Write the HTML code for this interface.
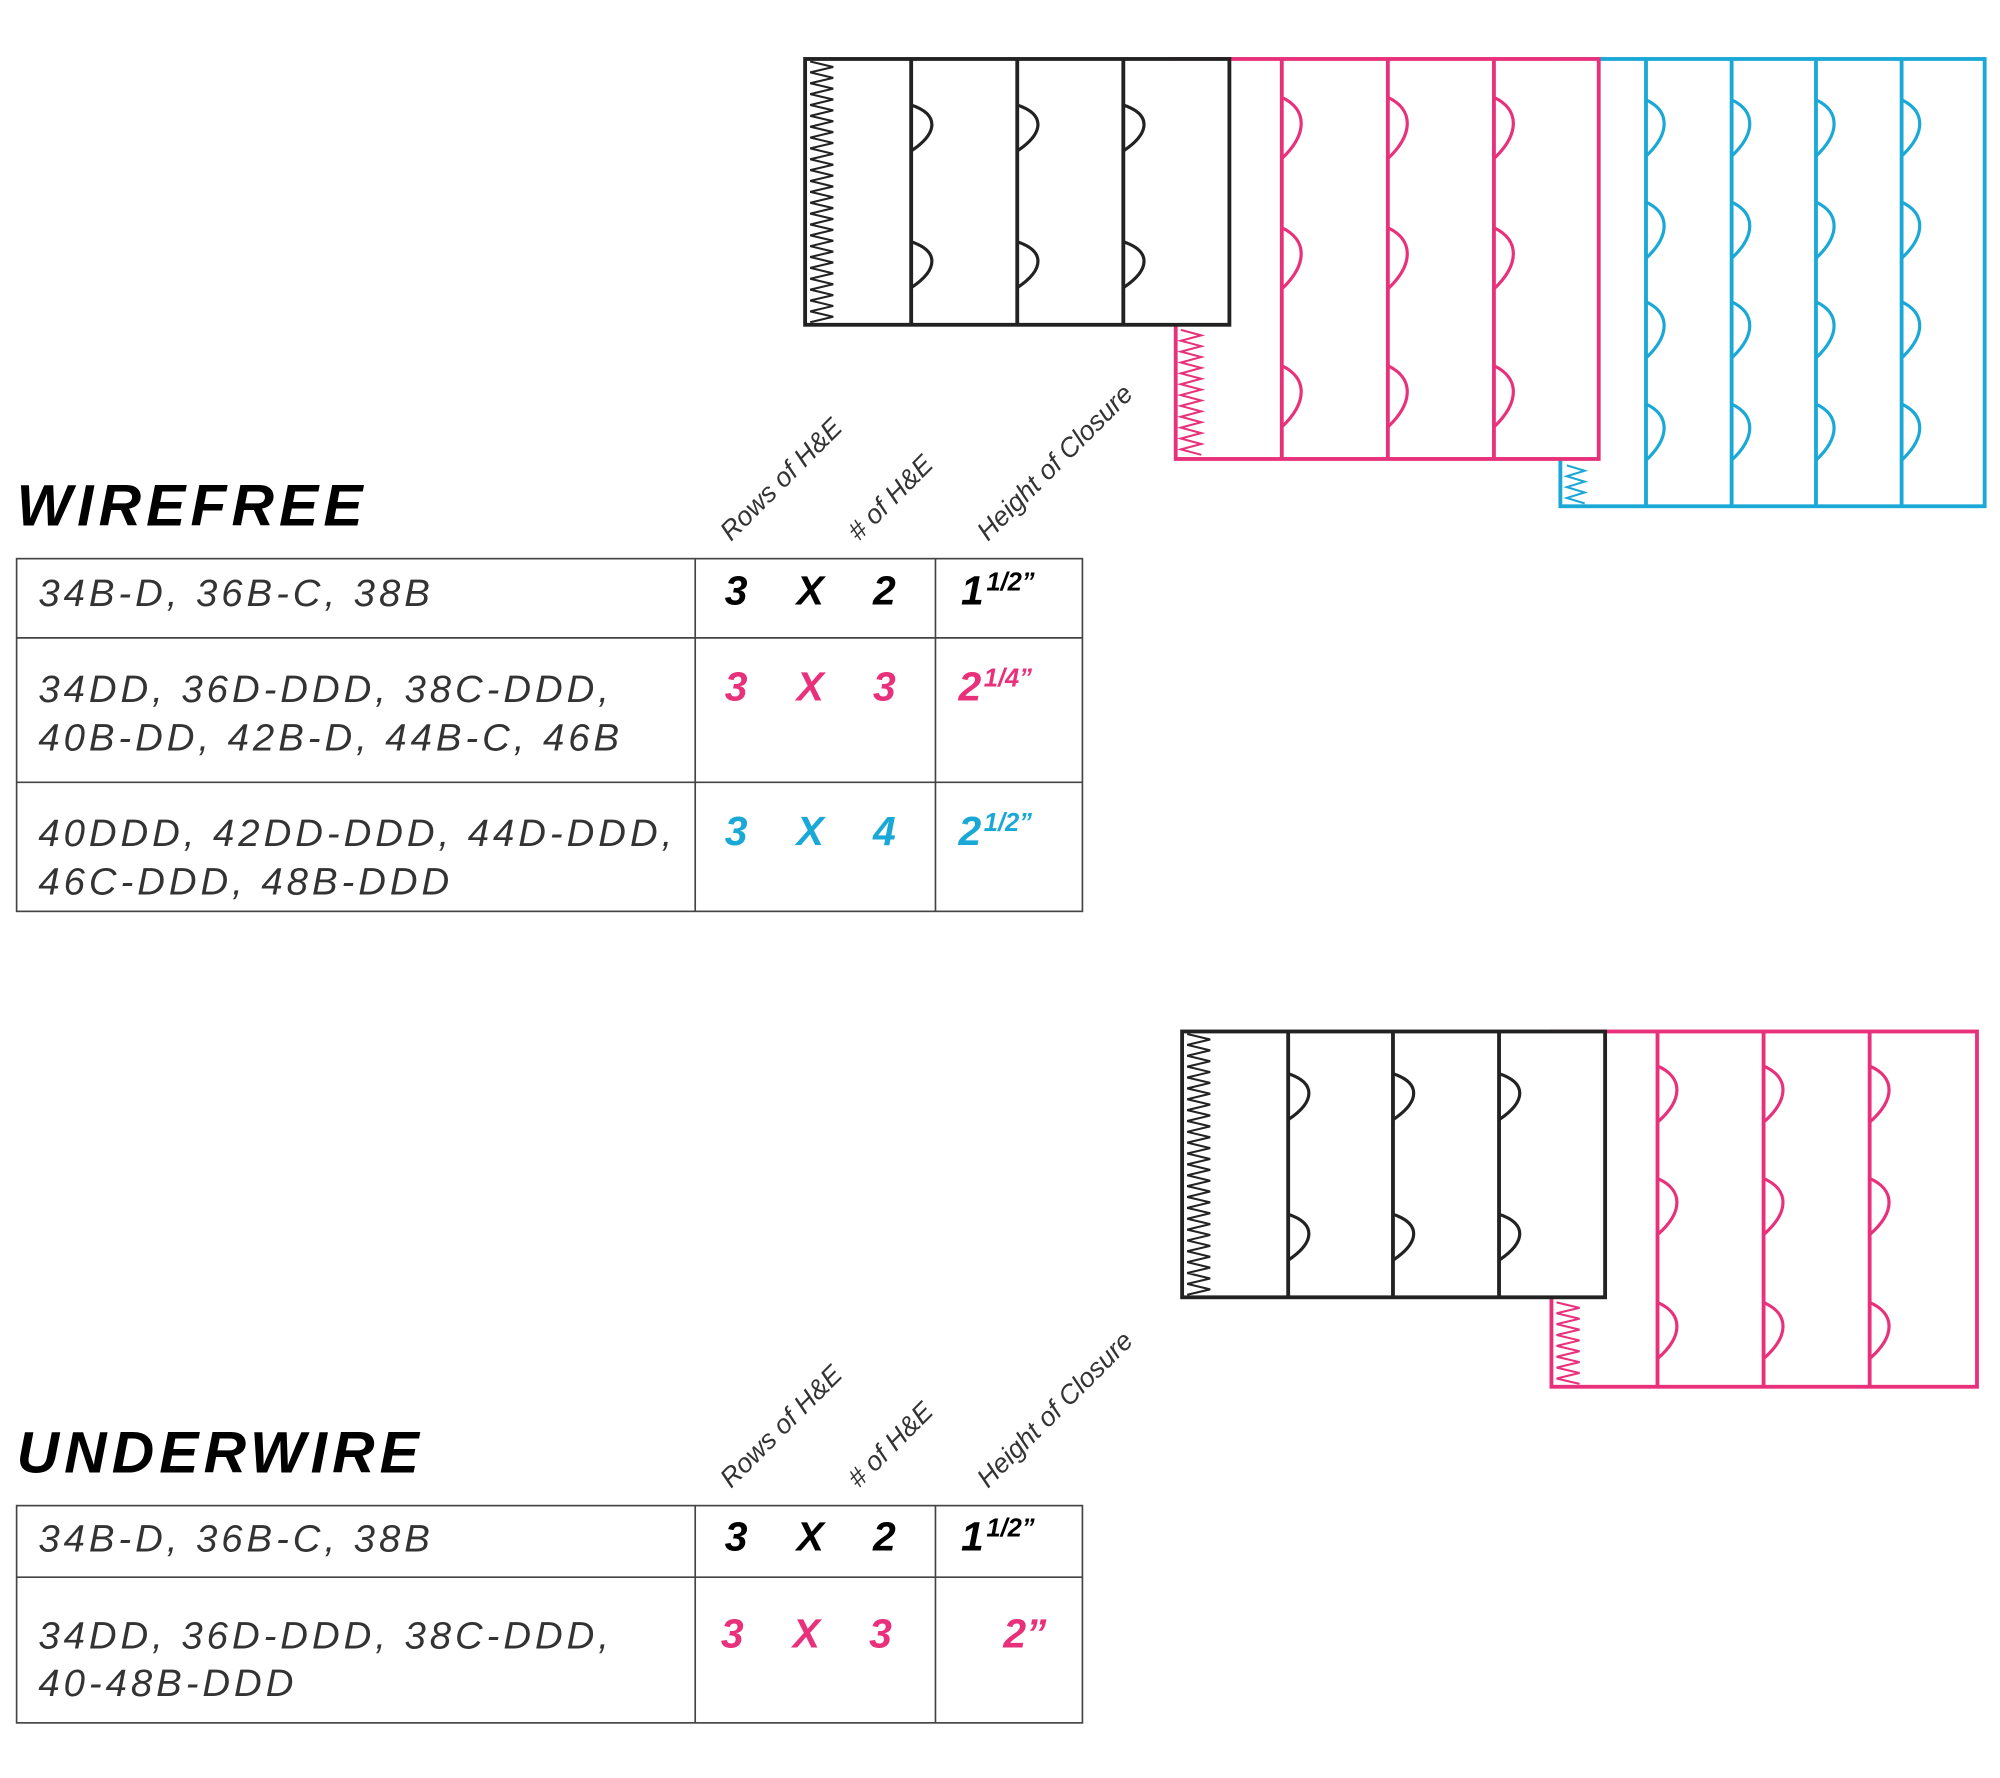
<!DOCTYPE html>
<html><head><meta charset="utf-8">
<style>
html,body{margin:0;padding:0;background:#fff;}
svg{display:block;}
.lbl{font-family:"Liberation Sans",sans-serif;font-style:italic;font-size:30px;letter-spacing:3.1px;fill:#333;}
.num{font-family:"Liberation Sans",sans-serif;font-style:italic;font-weight:bold;font-size:32px;text-anchor:middle;}
.hdr{font-family:"Liberation Sans",sans-serif;font-style:italic;font-size:21px;fill:#333;}
.ttl{font-family:"Liberation Sans",sans-serif;font-style:italic;font-weight:bold;font-size:46px;letter-spacing:4px;fill:#000;}
.sup{font-size:20px;}
</style></head><body>
<svg id="s" width="2000" height="1778" viewBox="0 0 1565 1391" xmlns="http://www.w3.org/2000/svg">
<g id="draw" fill="none" stroke-width="3"></g>

<text class="ttl" x="13" y="411">WIREFREE</text>
<text class="hdr" transform="translate(572,424) rotate(-45)">Rows of H&amp;E</text>
<text class="hdr" transform="translate(672,424) rotate(-45)"># of H&amp;E</text>
<text class="hdr" transform="translate(773,424) rotate(-45)">Height of Closure</text>
<g stroke="#444" stroke-width="1.3" fill="none">
<rect x="13" y="437" width="834" height="276"/>
<line x1="13" y1="499" x2="847" y2="499"/><line x1="13" y1="612" x2="847" y2="612"/>
<line x1="544" y1="437" x2="544" y2="713"/><line x1="732" y1="437" x2="732" y2="713"/>
</g>
<text class="lbl" x="30" y="474">34B-D, 36B-C, 38B</text>
<text class="lbl" x="30" y="549">34DD, 36D-DDD, 38C-DDD,</text>
<text class="lbl" x="30" y="587">40B-DD, 42B-D, 44B-C, 46B</text>
<text class="lbl" x="30" y="662">40DDD, 42DD-DDD, 44D-DDD,</text>
<text class="lbl" x="30" y="700">46C-DDD, 48B-DDD</text>
<g class="num" fill="#000"><text x="576" y="473">3</text><text x="634" y="473">X</text><text x="692" y="473">2</text><text x="752" y="473" text-anchor="start">1<tspan class="sup" dy="-11" dx="2">1/2”</tspan></text></g>
<g class="num" fill="#e8317a"><text x="576" y="548">3</text><text x="634" y="548">X</text><text x="692" y="548">3</text><text x="750" y="548" text-anchor="start">2<tspan class="sup" dy="-11" dx="2">1/4”</tspan></text></g>
<g class="num" fill="#1aa9d6"><text x="576" y="661">3</text><text x="634" y="661">X</text><text x="692" y="661">4</text><text x="750" y="661" text-anchor="start">2<tspan class="sup" dy="-11" dx="2">1/2”</tspan></text></g>

<text class="ttl" x="13" y="1152">UNDERWIRE</text>
<text class="hdr" transform="translate(572,1165) rotate(-45)">Rows of H&amp;E</text>
<text class="hdr" transform="translate(672,1165) rotate(-45)"># of H&amp;E</text>
<text class="hdr" transform="translate(773,1165) rotate(-45)">Height of Closure</text>
<g stroke="#444" stroke-width="1.3" fill="none">
<rect x="13" y="1178" width="834" height="170"/>
<line x1="13" y1="1234" x2="847" y2="1234"/>
<line x1="544" y1="1178" x2="544" y2="1348"/><line x1="732" y1="1178" x2="732" y2="1348"/>
</g>
<text class="lbl" x="30" y="1214">34B-D, 36B-C, 38B</text>
<text class="lbl" x="30" y="1290">34DD, 36D-DDD, 38C-DDD,</text>
<text class="lbl" x="30" y="1327">40-48B-DDD</text>
<g class="num" fill="#000"><text x="576" y="1213">3</text><text x="634" y="1213">X</text><text x="692" y="1213">2</text><text x="752" y="1213" text-anchor="start">1<tspan class="sup" dy="-11" dx="2">1/2”</tspan></text></g>
<g class="num" fill="#e8317a"><text x="573" y="1289">3</text><text x="631" y="1289">X</text><text x="689" y="1289">3</text><text x="802" y="1289">2”</text></g>
</svg>
<script>
var g=document.getElementById('draw'),NS='http://www.w3.org/2000/svg';
function el(t,a){var e=document.createElementNS(NS,t);for(var k in a)e.setAttribute(k,a[k]);g.appendChild(e);return e;}
function zig(x,y1,y2,amp,per,c){var p=[],y=y1,i=0;while(y<=y2){p.push((x+(i%2?amp:0))+','+y);y+=per/2;i++;}el('polyline',{points:p.join(' '),stroke:c,'stroke-width':1.6});}
function hook(x,y,h,w,c,sw){var t=y-h/2,b=y+h/2;el('path',{d:'M'+x+','+t+' C'+(x+w*1.35)+','+(t+h*0.2)+' '+(x+w*1.35)+','+(t+h*0.6)+' '+x+','+b,stroke:c,'stroke-width':sw});}
function block(x1,x2,y1,y2,divs,hooks,c,zx,zy1,zy2,zamp,zper,h,w){
  el('rect',{x:x1,y:y1,width:x2-x1,height:y2-y1,stroke:c,fill:'#fff','stroke-width':3});
  divs.forEach(function(d){el('line',{x1:d,y1:y1,x2:d,y2:y2,stroke:c});hooks.forEach(function(hy){hook(d,hy,h,w,c,2.5);});});
  zig(zx,zy1,zy2,zamp,zper,c);
}
var K='#222',P='#e8317a',C='#1aa9d6';
block(1221,1553,46,396,[1288,1355,1421,1488],[100,180,258,338],C,1226,364,394,14,8.5,44,14);
block(920,1251,46,359,[1003,1086,1169],[100,202,310],P,924,258,357,16,8.5,48,15);
block(630,962,46,254,[713,796,879],[100,207],K,634,48,252,18,8.5,36,16);
block(1214,1547,807,1085,[1297,1380,1463],[856,944,1041],P,1218,1019,1083,18,8.5,44,15);
block(925,1256,807,1015,[1008,1090,1173],[858,968],K,929,809,1013,18,8.5,36,16);
</script>
</body></html>
